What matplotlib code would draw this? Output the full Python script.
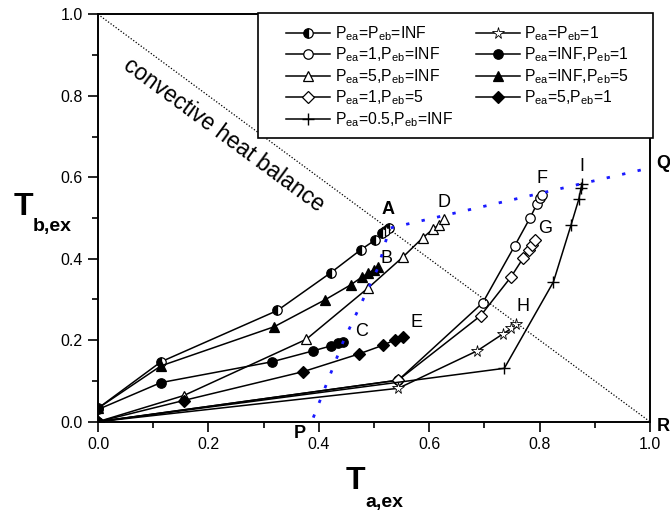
import matplotlib
matplotlib.use("Agg")
import matplotlib.pyplot as plt
from matplotlib.patches import Rectangle
from matplotlib.ticker import MultipleLocator

plt.rcParams["font.family"] = ["Liberation Sans", "DejaVu Sans"]
plt.rcParams["mathtext.fontset"] = "custom"
plt.rcParams["mathtext.rm"] = "Liberation Sans"
plt.rcParams["mathtext.bf"] = "Liberation Sans:bold"

# --- data ---
inf_inf_x = [0.0, 0.114, 0.325, 0.422, 0.476, 0.502, 0.514, 0.520, 0.528]
inf_inf_y = [0.033, 0.147, 0.273, 0.366, 0.422, 0.446, 0.463, 0.469, 0.475]

p1_inf_x = [0.0, 0.544, 0.697, 0.755, 0.783, 0.795, 0.801, 0.805]
p1_inf_y = [0.0, 0.102, 0.292, 0.432, 0.501, 0.534, 0.549, 0.557]

p5_inf_x = [0.0, 0.155, 0.377, 0.490, 0.553, 0.588, 0.607, 0.618, 0.627]
p5_inf_y = [0.0, 0.064, 0.202, 0.329, 0.405, 0.451, 0.473, 0.483, 0.497]

p1_5_x = [0.0, 0.544, 0.693, 0.748, 0.770, 0.780, 0.786, 0.792]
p1_5_y = [0.0, 0.102, 0.260, 0.355, 0.401, 0.422, 0.434, 0.446]

p05_inf_x = [0.0, 0.736, 0.825, 0.857, 0.871, 0.875, 0.877]
p05_inf_y = [0.0, 0.131, 0.343, 0.483, 0.546, 0.573, 0.583]

p1_1_x = [0.0, 0.544, 0.687, 0.733, 0.749, 0.758]
p1_1_y = [0.0, 0.082, 0.174, 0.215, 0.229, 0.239]

inf_1_x = [0.0, 0.114, 0.315, 0.390, 0.422, 0.435, 0.444]
inf_1_y = [0.030, 0.096, 0.147, 0.174, 0.186, 0.192, 0.196]

inf_5_x = [0.0, 0.114, 0.319, 0.411, 0.458, 0.478, 0.490, 0.500, 0.508]
inf_5_y = [0.033, 0.137, 0.233, 0.299, 0.336, 0.355, 0.365, 0.373, 0.380]

p5_1_x = [0.0, 0.155, 0.372, 0.472, 0.517, 0.538, 0.553]
p5_1_y = [0.0, 0.052, 0.123, 0.166, 0.188, 0.201, 0.209]

# blue boundary P-A-Q
pq_x = [0.390, 0.444, 0.508, 0.528, 1.0]
pq_y = [0.010, 0.196, 0.380, 0.475, 0.623]

point_labels = ["A", "B", "C", "D", "E", "F", "G", "H", "I", "P", "Q", "R"]
label_x = [0.525, 0.523, 0.478, 0.626, 0.577, 0.804, 0.810, 0.770, 0.876, 0.366, 1.024, 1.024]
label_y = [0.520, 0.401, 0.221, 0.537, 0.243, 0.598, 0.475, 0.283, 0.627, -0.029, 0.635, -0.012]
label_bold = [True, False, False, False, False, False, False, False, False, True, True, True]


def lab(pa, pb):
    # P_ea / P_eb with subscripts, no extra spacing around '='
    ea = r"P$_\mathregular{ea}$"
    eb = r"P$_\mathregular{eb}$"
    if pa == pb:
        return f"{ea}={eb}={pa}"
    return f"{ea}={pa},{eb}={pb}"


fig = plt.figure(figsize=(6.7, 5.18), dpi=100)
ax = fig.add_axes([98 / 670, 1 - 421.7 / 518, 552 / 670, 407.4 / 518])

lw = 1.1
base = dict(color="black", lw=lw, mec="black")

ax.plot(inf_inf_x, inf_inf_y, marker="o", fillstyle="left", mfc="black",
        markerfacecoloralt="white", ms=6.8, mew=0.9,
        label=lab("INF", "INF"), **base)
ax.plot(p1_inf_x, p1_inf_y, marker="o", mfc="white", ms=6.8, mew=0.9,
        label=lab("1", "INF"), **base)
ax.plot(p5_inf_x, p5_inf_y, marker="^", mfc="white", ms=7.2, mew=0.9,
        label=lab("5", "INF"), **base)
ax.plot(p1_5_x, p1_5_y, marker="D", mfc="white", ms=5.8, mew=0.9,
        label=lab("1", "5"), **base)
ax.plot(p05_inf_x, p05_inf_y, marker="+", mfc="black", ms=8.5, mew=1.0,
        label=lab("0.5", "INF"), **base)
ax.plot(p1_1_x, p1_1_y, marker="*", mfc="white", ms=8.5, mew=0.6,
        label=lab("1", "1"), **base)
ax.plot(inf_1_x, inf_1_y, marker="o", mfc="black", ms=6.8, mew=0.9,
        label=lab("INF", "1"), **base)
ax.plot(inf_5_x, inf_5_y, marker="^", mfc="black", ms=7.2, mew=0.9,
        label=lab("INF", "5"), **base)
ax.plot(p5_1_x, p5_1_y, marker="D", mfc="black", ms=5.8, mew=0.9,
        label=lab("5", "1"), **base)

# convective heat balance line
ax.plot([0, 1], [1, 0], color="black", lw=0.9, ls=(0, (1, 1.5)))
ax.text(0.227, 0.704, "convective heat balance", rotation=-36.4,
        rotation_mode="anchor", ha="center", va="center", fontsize=16.3)

# blue dotted P-A-Q line
ax.plot(pq_x, pq_y, color="#1a1aff", lw=2.0, ls=(0, (1.2, 4.5)), zorder=5)

for t, x, y, b in zip(point_labels, label_x, label_y, label_bold):
    ax.text(x, y, t, ha="center", va="center", fontsize=13,
            fontweight="bold" if b else "normal", clip_on=False)

ax.set_xlim(0, 1)
ax.set_ylim(0, 1)
ax.xaxis.set_major_locator(MultipleLocator(0.2))
ax.xaxis.set_minor_locator(MultipleLocator(0.1))
ax.yaxis.set_major_locator(MultipleLocator(0.2))
ax.yaxis.set_minor_locator(MultipleLocator(0.1))
ax.xaxis.set_major_formatter(lambda v, p: f"{v:.1f}")
ax.yaxis.set_major_formatter(lambda v, p: f"{v:.1f}")
ax.tick_params(which="both", direction="out", width=1.2, labelsize=11.5,
               top=False, right=False, colors="black")
ax.tick_params(which="major", length=7, pad=4)
ax.tick_params(which="minor", length=4)
for s in ax.spines.values():
    s.set_linewidth(1.4)

# legend frame drawn separately (wide side padding as in the original)
ax.add_patch(Rectangle((0.2899, 0.6956), 1.0054 - 0.2899, 1.0025 - 0.6956,
                       transform=ax.transAxes, fc="white", ec="black",
                       lw=1.2, clip_on=False, zorder=6))
leg = ax.legend(loc="upper left", bbox_to_anchor=(0.341, 0.976), ncol=2,
                fontsize=11.3, frameon=False, borderaxespad=0, borderpad=0,
                handlelength=2.8, handletextpad=0.3, columnspacing=1.45,
                labelspacing=0.18)
leg.set_zorder(7)

# axis titles
fig.text(23 / 670, 1 - 207 / 518, "T", fontsize=23, fontweight="bold",
         ha="center", va="center")
fig.text(52 / 670, 1 - 226 / 518, "b,ex", fontsize=14, fontweight="bold",
         ha="center", va="center")
fig.text(355 / 670, 1 - 481 / 518, "T", fontsize=23, fontweight="bold",
         ha="center", va="center")
fig.text(384 / 670, 1 - 502 / 518, "a,ex", fontsize=14, fontweight="bold",
         ha="center", va="center")

fig.savefig("out.png", dpi=100, facecolor="white")
